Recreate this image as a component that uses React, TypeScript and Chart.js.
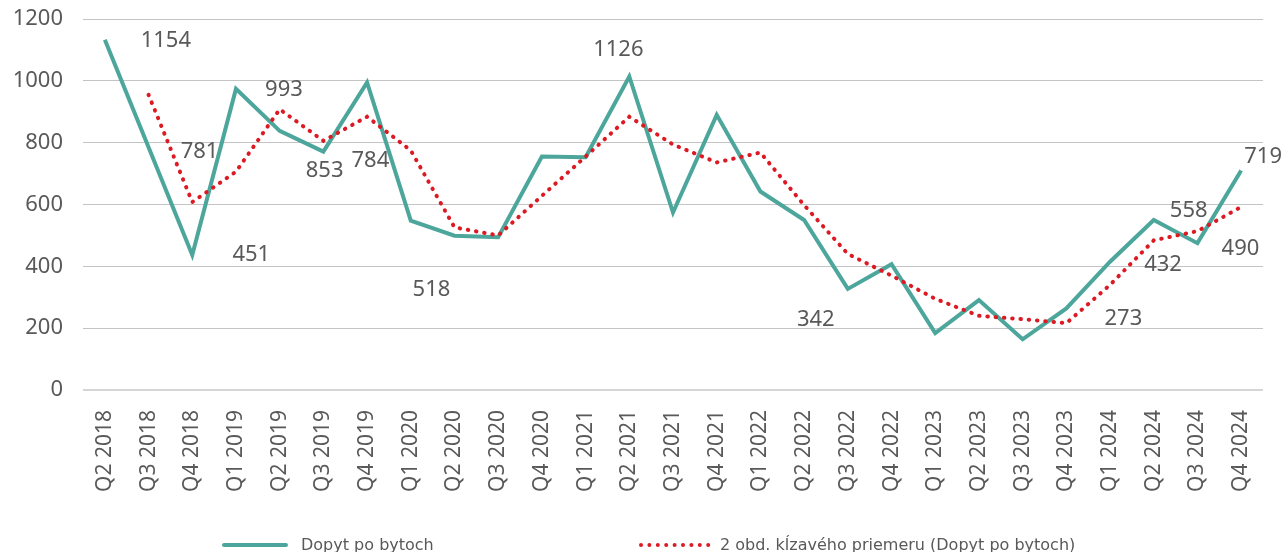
import { useEffect, useRef } from 'react';
import { Chart, registerables } from 'chart.js';

Chart.register(...registerables);

const categories = [
  'Q2 2018', 'Q3 2018', 'Q4 2018',
  'Q1 2019', 'Q2 2019', 'Q3 2019', 'Q4 2019',
  'Q1 2020', 'Q2 2020', 'Q3 2020', 'Q4 2020',
  'Q1 2021', 'Q2 2021', 'Q3 2021', 'Q4 2021',
  'Q1 2022', 'Q2 2022', 'Q3 2022', 'Q4 2022',
  'Q1 2023', 'Q2 2023', 'Q3 2023', 'Q4 2023',
  'Q1 2024', 'Q2 2024', 'Q3 2024', 'Q4 2024',
];

const demand = [
  1133, 785, 437,
  974, 838, 771, 995,
  548, 499, 494, 755,
  753, 1014, 574, 890,
  642, 550, 327, 407,
  184, 291, 164, 264,
  415, 550, 475, 710,
];

const movingAverage = [
  null, 955, 608,
  706, 908, 806, 884,
  775, 526, 500, 628,
  755, 884, 794, 736,
  768, 598, 440, 370,
  295, 240, 229, 216,
  340, 484, 514, 592,
];

const valueLabels = [
  '1154', '781', '451',
  '993', '853', '784', null,
  null, '518', null, null,
  null, '1126', null, null,
  null, null, '342', null,
  null, null, null, '273',
  '432', '558', '490', '719',
];

const yTicks = [0, 200, 400, 600, 800, 1000, 1200];

const seriesNames = ['Dopyt po bytoch', '2 obd. kĺzavého priemeru (Dopyt po bytoch)'];

// label placement relative to its point (styling)
const labelOffsets: Record<number, [number, number]> = {
  0: [61, 1],
  1: [51, 4],
  2: [59, 0],
  3: [48, 1],
  4: [45, 40],
  5: [47, 9],
  8: [-23, 54],
  12: [-11, -27],
  17: [-32, 31],
  22: [57, 10],
  23: [53, 3],
  24: [35, -9],
  25: [43, 6],
  26: [22, -14],
};

const TEAL = '#4DA69B';
const RED = '#DC1A23';
const TEXT = '#595959';
const GRID = '#c4c4c4';
const W = 1281;
const H = 552;

export default function App() {
  const ref = useRef<HTMLCanvasElement | null>(null);

  useEffect(() => {
    if (!ref.current) return;

    const labelPlugin = {
      id: 'valueLabels',
      afterDatasetsDraw(chart: any) {
        const meta = chart.getDatasetMeta(0);
        const ctx = chart.ctx as CanvasRenderingContext2D;
        ctx.save();
        ctx.font = '22px "Noto Sans"';
        ctx.fillStyle = TEXT;
        ctx.textAlign = 'center';
        ctx.textBaseline = 'middle';
        valueLabels.forEach((t, i) => {
          if (!t) return;
          const el = meta.data[i];
          const off = labelOffsets[i] || [0, 0];
          ctx.fillText(t, el.x + off[0], el.y + off[1]);
        });
        ctx.restore();
      },
    };

    const legendPlugin = {
      id: 'customLegend',
      afterDraw(chart: any) {
        const ctx = chart.ctx as CanvasRenderingContext2D;
        const y = 545;
        ctx.save();
        ctx.strokeStyle = TEAL;
        ctx.lineWidth = 4;
        ctx.lineCap = 'round';
        ctx.beginPath();
        ctx.moveTo(224, y);
        ctx.lineTo(286, y);
        ctx.stroke();
        ctx.fillStyle = RED;
        for (let k = 0; k < 9; k++) {
          ctx.beginPath();
          ctx.arc(641 + k * 8.4, y, 2, 0, Math.PI * 2);
          ctx.fill();
        }
        ctx.fillStyle = TEXT;
        ctx.font = '16px "DejaVu Sans"';
        ctx.textAlign = 'left';
        ctx.textBaseline = 'alphabetic';
        ctx.fillText(seriesNames[0], 301, 550);
        ctx.fillText(seriesNames[1], 720, 550);
        ctx.restore();
      },
    };

    const chart = new Chart(ref.current, {
      type: 'line',
      data: {
        labels: categories,
        datasets: [
          {
            label: seriesNames[0],
            data: demand,
            borderColor: TEAL,
            backgroundColor: TEAL,
            borderWidth: 4,
            pointRadius: 0,
            tension: 0,
            borderJoinStyle: 'miter',
            order: 1,
          },
          {
            label: seriesNames[1],
            data: movingAverage,
            borderColor: RED,
            backgroundColor: RED,
            borderWidth: 4,
            borderDash: [0.5, 7.8],
            borderCapStyle: 'round',
            pointRadius: 0,
            tension: 0,
            order: 0,
          },
        ],
      },
      options: {
        responsive: false,
        animation: false,
        devicePixelRatio: 1,
        layout: { padding: { left: 0, right: 18, top: 19, bottom: 0 } },
        plugins: {
          legend: { display: false },
          tooltip: { enabled: false },
        },
        scales: {
          x: {
            type: 'category',
            offset: true,
            grid: { display: false, drawTicks: false },
            border: { display: false },
            ticks: {
              autoSkip: false,
              maxRotation: 90,
              minRotation: 90,
              padding: 20,
              color: TEXT,
              font: { family: 'Noto Sans', size: 21 },
            },
            afterFit: (s: any) => {
              s.height = 162;
              s.paddingLeft = 0;
              s.paddingRight = 0;
            },
          },
          y: {
            min: 0,
            max: 1200,
            afterBuildTicks: (s: any) => {
              s.ticks = yTicks.map((v) => ({ value: v }));
            },
            grid: {
              drawTicks: false,
              color: (c: any) => (c.tick && c.tick.value === 0 ? '#d6d6d6' : GRID),
              lineWidth: (c: any) => (c.tick && c.tick.value === 0 ? 2 : 1),
            },
            border: { display: false },
            ticks: {
              padding: 20,
              color: TEXT,
              font: { family: 'Noto Sans', size: 22 },
              callback: (v: any) => String(v),
            },
            afterFit: (s: any) => {
              s.width = 83;
              s.paddingTop = 0;
              s.paddingBottom = 0;
            },
          },
        },
      },
      plugins: [labelPlugin, legendPlugin],
    } as any);

    return () => chart.destroy();
  }, []);

  return (
    <div style={{ position: 'absolute', left: 0, top: 0, width: W, height: H, background: '#fff' }}>
      <canvas ref={ref} width={W} height={H} style={{ width: W, height: H, display: 'block' }} />
    </div>
  );
}
